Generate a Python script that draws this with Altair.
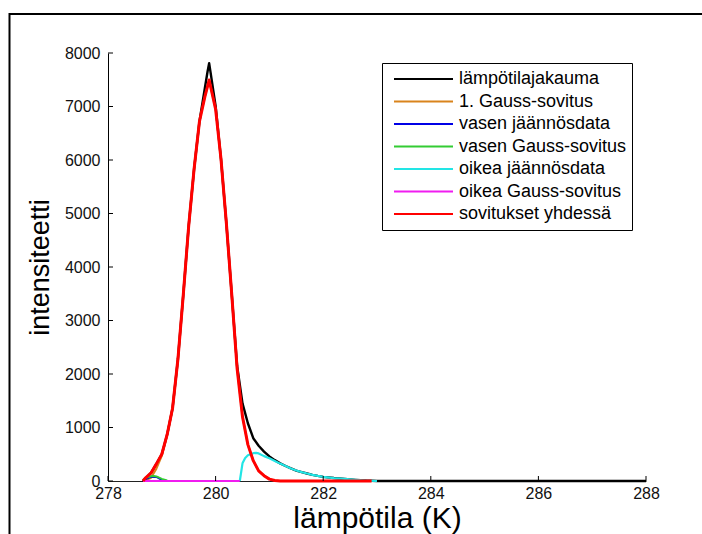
import altair as alt
import pandas as pd

SERIES = ["lämpötilajakauma", "1. Gauss-sovitus", "vasen jäännösdata",
          "vasen Gauss-sovitus", "oikea jäännösdata", "oikea Gauss-sovitus",
          "sovitukset yhdessä"]
COLORS = ["#000000", "#D9841C", "#0000E6", "#33CC33", "#22E5E5", "#F01CF0", "#FF0000"]
WIDTHS = [2.4, 2, 2, 2, 2.2, 2, 3]

# lämpötilajakauma (measured distribution)
black_x = [278.65, 278.7, 278.8, 278.9, 279.0, 279.1, 279.2, 279.3, 279.4, 279.5,
           279.6, 279.7, 279.8, 279.85, 279.88, 279.9, 280.0, 280.1, 280.2, 280.3,
           280.4, 280.5, 280.6, 280.7, 280.8, 280.9, 281.0, 281.1, 281.2, 281.3,
           281.4, 281.5, 281.6, 281.7, 281.8, 281.9, 282.0, 282.2, 282.4, 282.6,
           282.8, 283.0, 284.0, 285.0, 286.0, 287.0, 288.0]
black_y = [0, 50, 150, 320, 500, 870, 1360, 2280, 3490, 4770,
           5830, 6720, 7340, 7650, 7810, 7680, 7010, 6020, 4820, 3490,
           2150, 1450, 1080, 800, 660, 550, 460, 390, 330, 280,
           235, 195, 165, 140, 115, 95, 78, 55, 38, 22,
           8, 0, 0, 0, 0, 0, 0]

# 1. Gauss-sovitus
orange_x = [278.65, 278.7, 278.8, 278.9, 279.0, 279.1, 279.2, 279.3, 279.4, 279.5,
            279.6, 279.7, 279.8, 279.88, 280.0, 280.1, 280.2, 280.3, 280.4, 280.5,
            280.6, 280.7, 280.8, 280.9, 281.0, 281.1, 281.2]
orange_y = [0, 10, 60, 230, 470, 860, 1360, 2280, 3490, 4770,
            5830, 6720, 7180, 7495, 6950, 6020, 4820, 3490, 2100, 1200,
            680, 380, 190, 100, 35, 8, 0]

# vasen jäännösdata
blue_x = [278.65, 278.7, 278.8, 278.9, 279.0, 279.05, 279.1]
blue_y = [0, 35, 80, 75, 20, 5, 0]

# vasen Gauss-sovitus
green_x = [278.65, 278.7, 278.8, 278.85, 278.9, 279.0, 279.1]
green_y = [20, 60, 90, 93, 85, 40, 8]

# oikea jäännösdata
cyan_x = [280.45, 280.5, 280.55, 280.6, 280.7, 280.75, 280.8, 280.9, 281.0, 281.1,
          281.2, 281.3, 281.4, 281.5, 281.6, 281.7, 281.8, 281.9, 282.0, 282.2,
          282.4, 282.6, 282.8, 283.0]
cyan_y = [0, 330, 430, 480, 520, 525, 515, 465, 425, 375,
          325, 280, 235, 195, 165, 140, 115, 95, 78, 55,
          38, 22, 8, 0]

# oikea Gauss-sovitus
magenta_x = [278.65, 280.45]
magenta_y = [0, 0]

# sovitukset yhdessä
red_x = [278.65, 278.7, 278.8, 278.9, 279.0, 279.1, 279.2, 279.3, 279.4, 279.5,
         279.6, 279.7, 279.8, 279.88, 280.0, 280.1, 280.2, 280.3, 280.4, 280.5,
         280.6, 280.7, 280.8, 280.9, 281.0, 281.1, 281.2, 282.9]
red_y = [0, 60, 150, 320, 500, 870, 1360, 2280, 3490, 4770,
         5830, 6720, 7180, 7495, 6950, 6020, 4820, 3490, 2100, 1200,
         680, 380, 190, 100, 35, 8, 0, 0]

x_ticks = [278, 280, 282, 284, 286, 288]
y_ticks = [0, 1000, 2000, 3000, 4000, 5000, 6000, 7000, 8000]

XS = [black_x, orange_x, blue_x, green_x, cyan_x, magenta_x, red_x]
YS = [black_y, orange_y, blue_y, green_y, cyan_y, magenta_y, red_y]

rows = []
for name, xs_, ys_ in zip(SERIES, XS, YS):
    for a, b in zip(xs_, ys_):
        rows.append({"s": name, "x": a, "y": b})
df = pd.DataFrame(rows)

W, H = 538, 428
FONT = "Liberation Sans"

xscale = alt.Scale(domain=[278, 288], nice=False, zero=False)
yscale = alt.Scale(domain=[0, 8000], nice=False)

xaxis = alt.Axis(values=x_ticks, ticks=False, tickSize=0, grid=False, format="d",
                 labelFontSize=16, labelFont=FONT, labelColor="#111111",
                 labelPadding=4, labelFlush=False, labelOverlap=False,
                 domainColor="#222222", domainWidth=1,
                 title="lämpötila (K)", titleFont=FONT, titleFontSize=30,
                 titleFontWeight="normal", titleColor="#000000",
                 titleY=46, titleBaseline="alphabetic")
yaxis = alt.Axis(values=y_ticks, ticks=False, tickSize=0, grid=False, format="d",
                 labelFontSize=16, labelFont=FONT, labelColor="#111111",
                 labelPadding=8, labelFlush=False, labelOverlap=False,
                 domainColor="#000000", domainWidth=1,
                 title="intensiteetti", titleFont=FONT, titleFontSize=27,
                 titleFontWeight="normal", titleColor="#000000",
                 titleX=-60, titleBaseline="alphabetic")

legend = alt.Legend(title=None, orient="none", legendX=274, legendY=10,
                    symbolType="stroke", symbolSize=3481, symbolStrokeWidth=2,
                    symbolOffset=6, labelFontSize=18, labelFont=FONT,
                    labelColor="#000000", labelOffset=5, labelLimit=400,
                    padding=5, clipHeight=22, rowPadding=0.5,
                    strokeColor="#000000", fillColor="#FFFFFF")

color = alt.Color("s:N", scale=alt.Scale(domain=SERIES, range=COLORS), legend=legend)

layers = []
frame = alt.Chart(pd.DataFrame({"a": [0]})).mark_rect(
    fillOpacity=0, stroke="#000000", strokeWidth=2
).encode(x=alt.value(-98.5), x2=alt.value(600), y=alt.value(-39), y2=alt.value(490))
layers.append(frame)

for name, w in zip(SERIES, WIDTHS):
    layers.append(
        alt.Chart(df).transform_filter(alt.datum.s == name)
        .mark_line(strokeWidth=w, strokeJoin="round")
        .encode(x=alt.X("x:Q", scale=xscale, axis=xaxis),
                y=alt.Y("y:Q", scale=yscale, axis=yaxis),
                color=color)
    )

ytick_layer = alt.Chart(pd.DataFrame({"y": y_ticks})).mark_rule(
    color="#000000", strokeWidth=1
).encode(y=alt.Y("y:Q", scale=yscale, axis=yaxis), x=alt.value(0), x2=alt.value(5))
xtick_layer = alt.Chart(pd.DataFrame({"x": x_ticks})).mark_rule(
    color="#000000", strokeWidth=1
).encode(x=alt.X("x:Q", scale=xscale, axis=xaxis), y=alt.value(H), y2=alt.value(H - 5))
layers += [ytick_layer, xtick_layer]

chart = alt.layer(*layers).properties(
    width=W, height=H,
    autosize=alt.AutoSizeParams(type="none"),
    padding={"left": 108, "top": 53, "right": 56, "bottom": 53},
    background="white",
).configure_view(stroke=None).configure_legend(strokeWidth=1)

chart.save("out.html", embed_options={"renderer": "svg", "actions": False})
